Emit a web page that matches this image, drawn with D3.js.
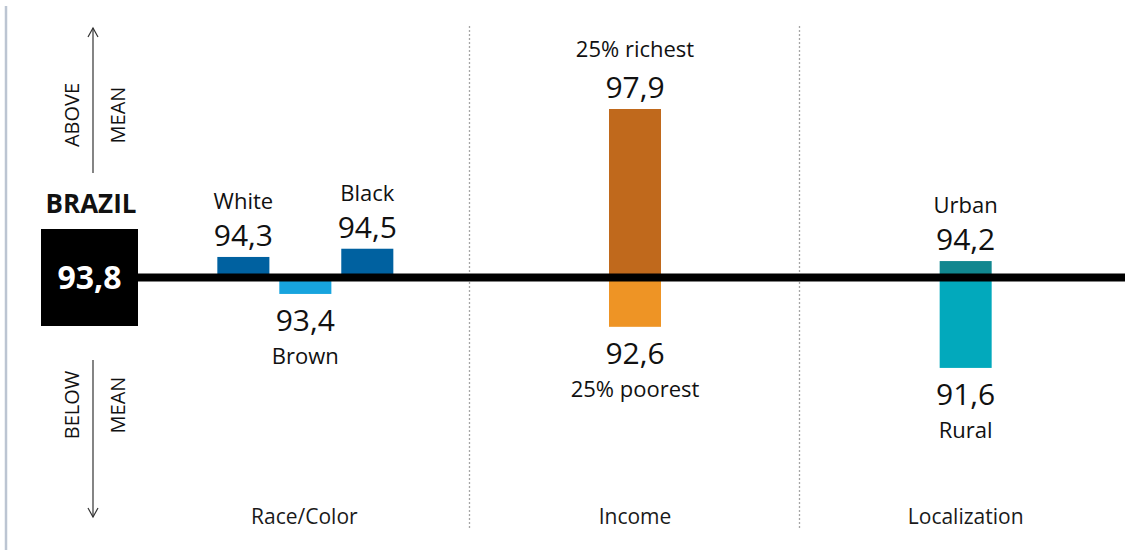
<!DOCTYPE html>
<html>
<head>
<meta charset="utf-8">
<script src="https://cdn.jsdelivr.net/npm/d3@7"></script>
<style>
  html, body { margin: 0; padding: 0; background: #ffffff; }
  svg { display: block; font-family: "Open Sans", "Noto Sans", sans-serif; }
</style>
</head>
<body>
<svg id="chart" width="1125" height="550"></svg>
<script>
// Brazilian national mean and the groups compared against it
const nationalLabel = "BRAZIL";
const nationalMean = 93.8;
const groups = ["Race/Color", "Income", "Localization"];
const categories = ["White", "Brown", "Black", "25% richest", "25% poorest", "Urban", "Rural"];
const categoryGroups = ["Race/Color", "Race/Color", "Race/Color", "Income", "Income", "Localization", "Localization"];
const values = [94.3, 93.4, 94.5, 97.9, 92.6, 94.2, 91.6];
const barColors = ["#0061a0", "#17a4de", "#0061a0", "#c0691c", "#ee9425", "#11878f", "#02a9bc"];
const directionWords = [["ABOVE", "MEAN"], ["BELOW", "MEAN"]];

const svg = d3.select("#chart");
const W = 1125, H = 550;

const ptBR = d3.formatLocale({ decimal: ",", thousands: ".", grouping: [3], currency: ["R$", ""] });
const fmt = ptBR.format(".1f");

const data = categories.map((c, i) => ({
  category: c, group: categoryGroups[i], value: values[i], color: barColors[i]
}));

// vertical scale centred on the national mean
const y = d3.scaleLinear().domain([nationalMean, 97.9]).range([277.5, 109]);
const y0 = y(nationalMean);

// one band per group, then columns inside each group
const xGroup = d3.scaleBand().domain(groups).range([139, 1131]).padding(0);
const columnKey = d => {
  const members = data.filter(e => e.group === d.group);
  return members.length > 2 ? d.category : d.group;
};
const innerScales = new Map(groups.map(g => {
  const cols = Array.from(new Set(data.filter(d => d.group === g).map(columnKey)));
  const c = xGroup(g) + xGroup.bandwidth() / 2;
  const half = cols.length > 1 ? 88 : 26;
  return [g, d3.scaleBand().domain(cols).range([c - half + 1, c + half + 1]).paddingInner(cols.length > 1 ? 0.16 : 0)];
}));
const xLeft = d => innerScales.get(d.group)(columnKey(d)) - (columnKey(d) === d.group ? 1 : 0);
const bw = d => innerScales.get(d.group).bandwidth();

// left page rule
svg.append("line")
  .attr("x1", 6).attr("x2", 6).attr("y1", 6).attr("y2", H)
  .attr("stroke", "#bcc5d2").attr("stroke-width", 2.5);

// dotted separators between groups
svg.selectAll("line.sep")
  .data(groups.slice(1))
  .join("line")
  .attr("class", "sep")
  .attr("x1", g => Math.round(xGroup(g)) - 0.5)
  .attr("x2", g => Math.round(xGroup(g)) - 0.5)
  .attr("y1", 26).attr("y2", 530)
  .attr("stroke", "#a6a6a6").attr("stroke-width", 1.3)
  .attr("stroke-dasharray", "2,2");

// group names along the bottom
svg.selectAll("text.group")
  .data(groups)
  .join("text")
  .attr("class", "group")
  .attr("x", g => xGroup(g) + xGroup.bandwidth() / 2)
  .attr("y", 524)
  .attr("text-anchor", "middle")
  .attr("font-size", 21)
  .attr("fill", "#1a1a1a")
  .text(g => g);

// bars, measured from the national mean
svg.selectAll("rect.bar")
  .data(data)
  .join("rect")
  .attr("class", "bar")
  .attr("x", d => xLeft(d))
  .attr("width", d => bw(d))
  .attr("y", d => Math.min(y(d.value), y0))
  .attr("height", d => Math.abs(y(d.value) - y0))
  .attr("fill", d => d.color);

// mean line
svg.append("line")
  .attr("x1", 137).attr("x2", W)
  .attr("y1", y0).attr("y2", y0)
  .attr("stroke", "#000").attr("stroke-width", 8);

// value and category labels
const above = data.filter(d => d.value >= nationalMean);
const below = data.filter(d => d.value < nationalMean);
const cx = d => xLeft(d) + bw(d) / 2;

svg.selectAll("text.valA").data(above).join("text")
  .attr("x", cx).attr("y", d => y(d.value) - 11)
  .attr("text-anchor", "middle").attr("font-size", 30).attr("fill", "#111")
  .text(d => fmt(d.value));
svg.selectAll("text.catA").data(above).join("text")
  .attr("x", cx).attr("y", d => y(d.value) - (d.value > 97 ? 52 : 48))
  .attr("text-anchor", "middle").attr("font-size", 22).attr("fill", "#111")
  .text(d => d.category);

svg.selectAll("text.valB").data(below).join("text")
  .attr("x", cx).attr("y", d => y(d.value) + 37)
  .attr("text-anchor", "middle").attr("font-size", 30).attr("fill", "#111")
  .text(d => fmt(d.value));
svg.selectAll("text.catB").data(below).join("text")
  .attr("x", cx).attr("y", d => y(d.value) + 70)
  .attr("text-anchor", "middle").attr("font-size", 22).attr("fill", "#111")
  .text(d => d.category);

// national reference box
const box = 97;
svg.append("rect")
  .attr("x", 41).attr("y", y0 - box / 2)
  .attr("width", box).attr("height", box)
  .attr("fill", "#000");
svg.append("text")
  .attr("x", 41 + box / 2).attr("y", y0 + 11)
  .attr("text-anchor", "middle").attr("font-size", 32).attr("font-weight", 700)
  .attr("fill", "#fff").text(fmt(nationalMean));
svg.append("text")
  .attr("x", 91).attr("y", 213)
  .attr("text-anchor", "middle").attr("font-size", 26).attr("font-weight", 700)
  .attr("fill", "#111").text(nationalLabel);

// direction arrows with their captions
const arrowX = 93;
const arrows = [
  { from: 173, to: 28, words: directionWords[0], mid: 115 },
  { from: 360, to: 517, words: directionWords[1], mid: 405 }
];
arrows.forEach(a => {
  const dir = a.to < a.from ? 1 : -1;
  svg.append("line")
    .attr("x1", arrowX).attr("x2", arrowX)
    .attr("y1", a.from).attr("y2", a.to)
    .attr("stroke", "#333").attr("stroke-width", 1.2);
  svg.append("path")
    .attr("d", `M${arrowX - 5},${a.to + dir * 9} L${arrowX},${a.to} L${arrowX + 5},${a.to + dir * 9}`)
    .attr("fill", "none").attr("stroke", "#333").attr("stroke-width", 1.2);
  [[arrowX - 14, a.words[0]], [arrowX + 32, a.words[1]]].forEach(([tx, word]) => {
    svg.append("text")
      .attr("transform", `translate(${tx},${a.mid}) rotate(-90)`)
      .attr("text-anchor", "middle")
      .attr("font-size", 20).attr("fill", "#111")
      .text(word);
  });
});
</script>
</body>
</html>
